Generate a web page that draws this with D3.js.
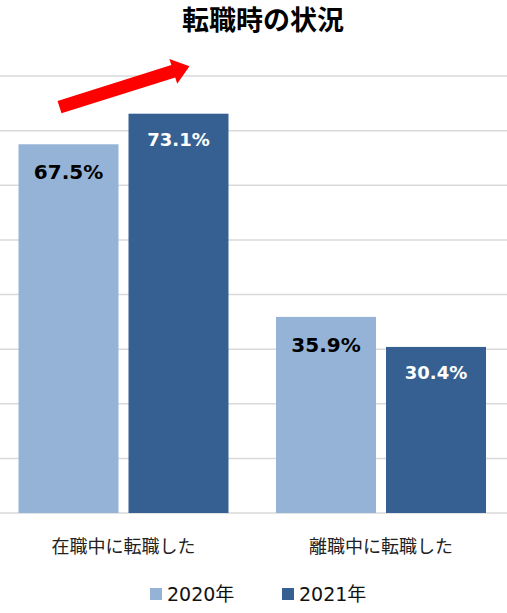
<!DOCTYPE html>
<html>
<head>
<meta charset="utf-8">
<script src="https://cdn.jsdelivr.net/npm/d3@7"></script>
<style>
  body { margin: 0; background: #fff; }
  svg { display: block; }
</style>
</head>
<body>
<svg id="chart" width="507" height="613"></svg>
<script>
const categories = ['在職中に転職した', '離職中に転職した'];
const seriesNames = ['2020年', '2021年'];
const values2020 = [67.5, 35.9];
const values2021 = [73.1, 30.4];
const yTicks = [0, 10, 20, 30, 40, 50, 60, 70, 80];
const colors = ['#95b3d7', '#376092'];
// arrow annotation, in data units of the first category
const arrowFrom = 74.3;
const arrowTo = 81.8;

const width = 507;
const svg = d3.select('#chart');

const x0 = d3.scaleBand().domain(categories).range([-5.25, 509.75]);
const x1 = d3
  .scaleBand()
  .domain(seriesNames)
  .range([0, x0.bandwidth()])
  .paddingInner(0.0909)
  .paddingOuter(0.216);
const y = d3.scaleLinear().domain([0, 80]).range([513, 76]);
const color = d3.scaleOrdinal().domain(seriesNames).range(colors);

const rows = categories.map((c, i) => ({
  cat: c,
  vals: [
    { s: seriesNames[0], v: values2020[i] },
    { s: seriesNames[1], v: values2021[i] },
  ],
}));

// grid
svg
  .append('g')
  .selectAll('line')
  .data(yTicks)
  .join('line')
  .attr('x1', 0)
  .attr('x2', width)
  .attr('y1', (d) => y(d))
  .attr('y2', (d) => y(d))
  .attr('stroke', '#d9d9d9')
  .attr('stroke-width', 1.5);

// title
svg
  .append('text')
  .attr('x', 263)
  .attr('y', 29.5)
  .attr('text-anchor', 'middle')
  .style('font-family', '"Noto Sans CJK JP"')
  .style('font-weight', 700)
  .style('font-size', '27px')
  .attr('fill', '#000')
  .text('転職時の状況');

// bars
let groups = svg
  .append('g')
  .selectAll('g')
  .data(rows)
  .join('g')
  .attr('transform', (d) => `translate(${x0(d.cat)},0)`);

groups
  .selectAll('rect')
  .data((d) => d.vals)
  .join('rect')
  .attr('x', (d) => x1(d.s))
  .attr('y', (d) => y(d.v))
  .attr('width', x1.bandwidth())
  .attr('height', (d) => y(0) - y(d.v))
  .attr('fill', (d) => color(d.s));

groups
  .selectAll('text')
  .data((d) => d.vals)
  .join('text')
  .attr('x', (d) => x1(d.s) + x1.bandwidth() / 2)
  .attr('y', (d, i) => y(d.v) + (i == 0 ? 35 : 32.5))
  .attr('text-anchor', 'middle')
  .style('font-family', '"DejaVu Sans", Verdana, sans-serif')
  .style('font-weight', 700)
  .style('font-size', (d, i) => (i == 0 ? '20px' : '18px'))
  .attr('fill', (d, i) => (i == 0 ? '#000' : '#fff'))
  .text((d) => d.v.toFixed(1) + '%');

// category labels
svg
  .append('g')
  .selectAll('text')
  .data(categories)
  .join('text')
  .attr('x', (d) => x0(d) + x0.bandwidth() / 2)
  .attr('y', 553)
  .attr('text-anchor', 'middle')
  .style('font-family', '"Noto Sans CJK JP"')
  .style('font-size', '18px')
  .attr('fill', '#222')
  .text((d) => d);

// legend
let legendX = [150, 282];
let legend = svg
  .append('g')
  .selectAll('g')
  .data(seriesNames)
  .join('g')
  .attr('transform', (d, i) => `translate(${legendX[i]},588)`);
legend
  .append('rect')
  .attr('width', 12)
  .attr('height', 12)
  .attr('fill', (d) => color(d));
legend
  .append('text')
  .attr('x', 17)
  .attr('y', 13)
  .style('font-family', '"DejaVu Sans", "Noto Sans CJK JP"')
  .style('font-size', '19px')
  .attr('fill', '#111')
  .text((d) => d);

// red arrow
let c0 = categories[0];
let p0 = [x0(c0) + x1(seriesNames[0]) + 41, y(arrowFrom)];
let p1 = [x0(c0) + x1(seriesNames[1]) + 61, y(arrowTo)];
let dx = p1[0] - p0[0],
  dy = p1[1] - p0[1];
let len = Math.hypot(dx, dy);
let ux = dx / len,
  uy = dy / len;
let nx = -uy,
  ny = ux;
let sw = 6.5,
  hw = 13,
  hl = 17;
let hb = [p1[0] - ux * hl, p1[1] - uy * hl];
let pts = [
  [p0[0] + nx * sw, p0[1] + ny * sw],
  [hb[0] + nx * sw, hb[1] + ny * sw],
  [hb[0] + nx * hw, hb[1] + ny * hw],
  p1,
  [hb[0] - nx * hw, hb[1] - ny * hw],
  [hb[0] - nx * sw, hb[1] - ny * sw],
  [p0[0] - nx * sw, p0[1] - ny * sw],
];
svg
  .append('path')
  .attr('d', d3.line()(pts) + 'Z')
  .attr('fill', '#ff0000');
</script>
</body>
</html>
